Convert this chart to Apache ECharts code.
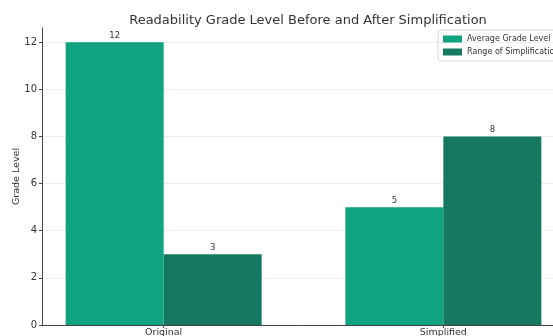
<!DOCTYPE html>
<html>
<head>
<meta charset="utf-8">
<script src="https://cdn.jsdelivr.net/npm/echarts@6/dist/echarts.min.js"></script>
<style>
  html, body { margin: 0; padding: 0; background: #fff; }
  #chart { width: 553px; height: 336px; }
</style>
</head>
<body>
<div id="chart"></div>
<script>
// Readability grade levels per text version
const categories = ['Original', 'Simplified'];
const averageGradeLevel = [12, 5];
const rangeOfSimplification = [3, 8];
const yTicks = [0, 2, 4, 6, 8, 10, 12];

const FONT = 'DejaVu Sans';
const chart = echarts.init(document.getElementById('chart'));

const toPoints = vals => vals.map((v, i) => [i, v]);

chart.setOption({
  animation: false,
  textStyle: { fontFamily: FONT },
  title: {
    text: 'Readability Grade Level Before and After Simplification',
    left: 303, textAlign: 'center', top: 9,
    textStyle: { fontFamily: FONT, fontSize: 13, fontWeight: 'normal', color: '#333' }
  },
  legend: {
    orient: 'vertical',
    left: 438, top: 30,
    itemWidth: 19, itemHeight: 7, itemGap: 5,
    padding: [5, 6, 5, 5],
    borderColor: '#d6d6d6', borderWidth: 1, borderRadius: 3,
    icon: 'rect',
    textStyle: { fontFamily: FONT, fontSize: 8, color: '#333' },
    data: ['Average Grade Level', 'Range of Simplification']
  },
  // plot area runs past the right edge of the canvas
  grid: { left: 42, top: 28, width: 523, height: 297, containLabel: false, outerBoundsMode: 'none' },
  xAxis: {
    type: 'value',
    min: -0.435, max: 1.435,
    axisLine: { show: true, onZero: false, lineStyle: { color: '#444', width: 1 } },
    axisTick: { show: true, customValues: [0, 1], length: 3, lineStyle: { color: '#444' } },
    axisLabel: {
      customValues: [0, 1],
      formatter: v => categories[Math.round(v)],
      fontFamily: FONT, fontSize: 9.5, color: '#333', margin: 3
    },
    splitLine: { show: false }
  },
  yAxis: {
    type: 'value',
    min: 0, max: 12.6,
    name: 'Grade Level', nameLocation: 'middle', nameGap: 20, nameMoveOverlap: false,
    nameTextStyle: { fontFamily: FONT, fontSize: 9.5, color: '#333' },
    axisLine: { show: true, onZero: false, lineStyle: { color: '#444', width: 1 } },
    axisTick: { show: true, customValues: yTicks, length: 3, lineStyle: { color: '#444' } },
    axisLabel: { customValues: yTicks, fontFamily: FONT, fontSize: 10, color: '#333', margin: 5 },
    splitLine: { show: true, lineStyle: { color: '#e8e8e8', width: 0.8 } }
  },
  series: [
    {
      name: 'Average Grade Level', type: 'bar',
      data: toPoints(averageGradeLevel),
      barWidth: 98, barGap: '0%',
      itemStyle: { color: '#10a37f' },
      label: { show: true, position: 'top', distance: 2, fontFamily: FONT, fontSize: 8.5, color: '#333',
               formatter: p => p.value[1] }
    },
    {
      name: 'Range of Simplification', type: 'bar',
      data: toPoints(rangeOfSimplification),
      barWidth: 98, barGap: '0%',
      itemStyle: { color: '#147960' },
      label: { show: true, position: 'top', distance: 2, fontFamily: FONT, fontSize: 8.5, color: '#333',
               formatter: p => p.value[1] }
    }
  ]
});
</script>
</body>
</html>
